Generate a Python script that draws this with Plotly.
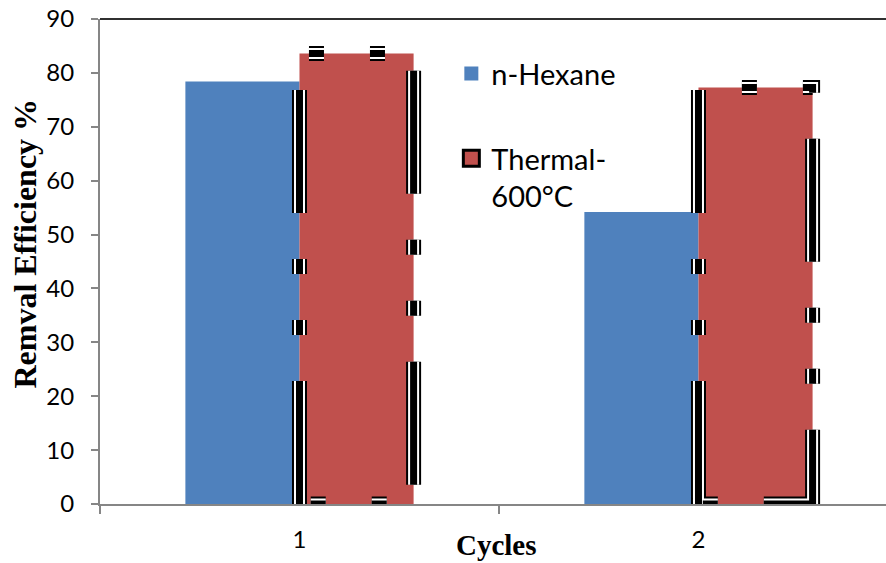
import plotly.graph_objects as go

# Data
cycles = [1, 2]
cycle_labels = ["1", "2"]
hexane = [78.4, 54.2]
thermal = [83.6, 77.3]

BLUE = "#4F81BD"
RED = "#C0504D"
AXIS = "#868686"
BAR_W = 0.286

fig = go.Figure()

fig.add_trace(go.Bar(
    x=cycles, y=hexane, name="n-Hexane", width=BAR_W, offset=-BAR_W,
    marker=dict(color=BLUE, line=dict(width=0)), showlegend=False,
))
fig.add_trace(go.Bar(
    x=cycles, y=thermal, name="Thermal-<br>600°C", width=BAR_W, offset=0,
    marker=dict(color=RED, line=dict(width=0)), showlegend=False,
))
# legend swatches
fig.add_trace(go.Scatter(
    x=[None], y=[None], mode="markers", name="n-Hexane",
    marker=dict(symbol="square", size=14, color=BLUE, line=dict(width=0)),
    legend="legend",
))
fig.add_trace(go.Scatter(
    x=[None], y=[None], mode="markers", name="Thermal-<br>600°C",
    marker=dict(symbol="square", size=19, color=RED, line=dict(color="black", width=3)),
    legend="legend2",
))

# striped dashed frame around the thermal bars
dash = "123px,46px,15px,46px,15px,46px"
shapes = []
for c, v in zip(cycles, thermal):
    x0, x1 = c, c + BAR_W
    path = f"M {x0},0 L {x0},{v} L {x1},{v} L {x1},0 Z"
    for w, col in [(15, "black"), (11, "white"), (7, "black")]:
        shapes.append(dict(type="path", path=path, xref="x", yref="y",
                           line=dict(color=col, width=w, dash=dash), layer="above"))

# top border of the plot area
shapes.append(dict(type="line", xref="paper", yref="paper", x0=0, x1=1, y0=1, y1=1,
                   line=dict(color="#303030", width=2), layer="above"))

fig.update_layout(
    width=886, height=563,
    margin=dict(l=100, r=0, t=19, b=59),
    paper_bgcolor="white", plot_bgcolor="white",
    barmode="overlay",
    shapes=shapes,
    font=dict(family="Lato", color="black"),
    xaxis=dict(
        range=[0.5, 2.47], tickmode="array", tickvals=cycles, ticktext=cycle_labels,
        ticks="outside", ticklen=13, tickcolor="rgba(0,0,0,0)",
        tickfont=dict(family="Lato", size=24, color="black"),
        showline=True, linecolor=AXIS, linewidth=2, showgrid=False, zeroline=False,
        minor=dict(tickmode="array", tickvals=[0.5, 1.5, 2.5], ticks="outside",
                   ticklen=8, tickcolor=AXIS, tickwidth=1.5, showgrid=False),
    ),
    yaxis=dict(
        range=[0, 90], dtick=10, ticks="outside", ticklen=7, tickcolor=AXIS, tickwidth=1.5,
        tickfont=dict(family="Lato", size=24, color="black"), ticklabelstandoff=12,
        showline=True, linecolor=AXIS, linewidth=2, showgrid=False, zeroline=False,
    ),
    legend=dict(x=0.447, y=0.94, xanchor="left", yanchor="top",
                font=dict(family="Lato", size=29, color="black"),
                bgcolor="rgba(0,0,0,0)", itemclick=False),
    legend2=dict(x=0.447, y=0.765, xanchor="left", yanchor="top", valign="top",
                 font=dict(family="Lato", size=29, color="black"),
                 bgcolor="rgba(0,0,0,0)", itemclick=False),
    annotations=[
        dict(text="<b>Cycles</b>", xref="paper", yref="paper", x=0.505, y=-0.085,
             xanchor="center", yanchor="middle", showarrow=False,
             font=dict(family="Liberation Serif", size=29, color="black")),
        dict(text="<b>Remval Efficiency %</b>", xref="paper", yref="paper", x=-0.096, y=0.536,
             xanchor="center", yanchor="middle", showarrow=False, textangle=-90,
             font=dict(family="Liberation Serif", size=32, color="black")),
    ],
)

fig.write_html("out.html")
